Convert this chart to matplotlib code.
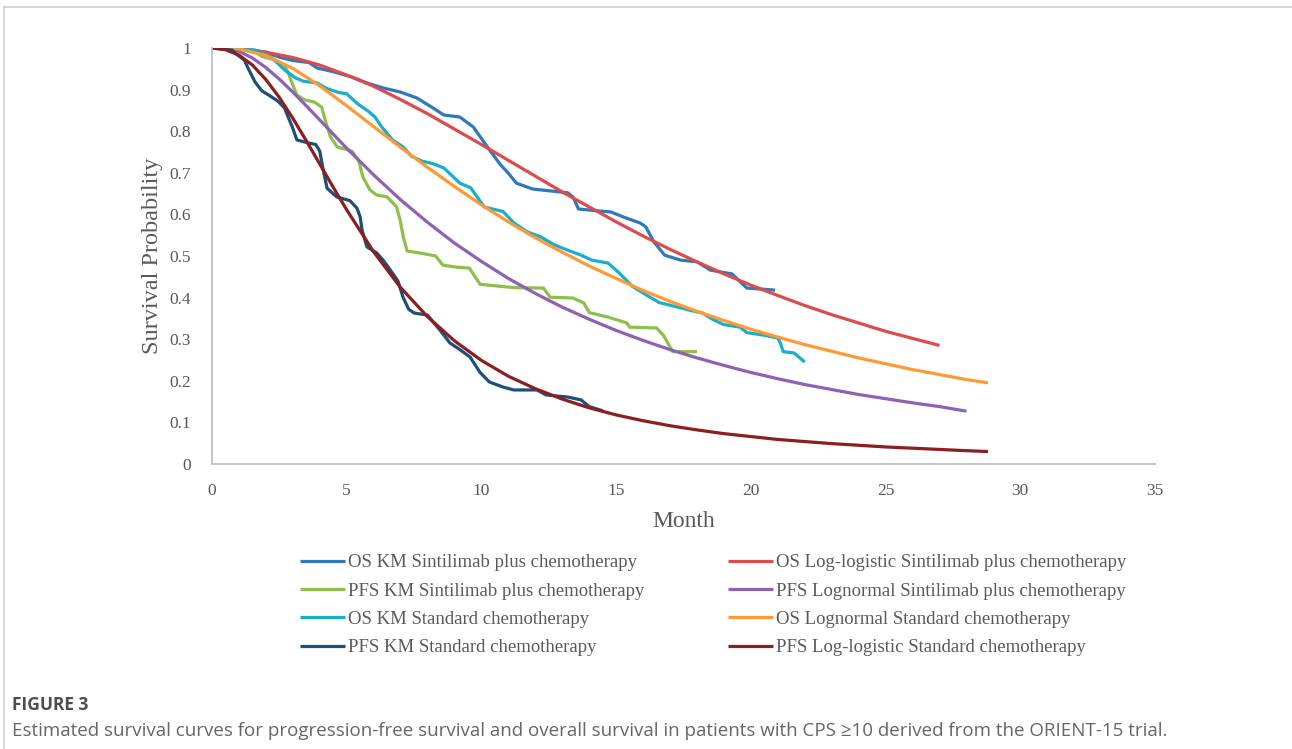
import matplotlib
matplotlib.use("Agg")
import matplotlib.pyplot as plt
from matplotlib.lines import Line2D

# ---- data (months, survival probability) ----
os_km_sint_t = [0, 1.0, 1.5, 2.0, 2.5, 3.0, 3.6, 3.9, 4.5, 5.2, 5.75, 6.35, 7.0, 7.6, 8.2, 8.6,
                9.2, 9.7, 10.3, 10.7, 11.0, 11.3, 11.9, 13.2, 13.4, 13.6, 14.4, 14.8, 15.3, 15.9,
                16.1, 16.4, 16.8, 17.4, 18.0, 18.5, 19.3, 19.85, 20.9]
os_km_sint_s = [1.0, 1.0, 0.995, 0.99, 0.978, 0.97, 0.965, 0.952, 0.943, 0.93, 0.916, 0.904, 0.894,
                0.88, 0.856, 0.839, 0.834, 0.81, 0.755, 0.72, 0.699, 0.675, 0.661, 0.652, 0.642,
                0.613, 0.608, 0.606, 0.593, 0.579, 0.57, 0.534, 0.502, 0.49, 0.486, 0.466, 0.457,
                0.423, 0.418]

os_ll_sint_t = [0, 1, 2, 3, 4, 5, 6, 7, 8, 9, 10, 11, 12, 13, 14, 15, 16, 17, 18, 19, 20, 21, 22,
                23, 24, 25, 26, 27]
os_ll_sint_s = [1.0, 0.998, 0.990, 0.977, 0.959, 0.935, 0.908, 0.876, 0.842, 0.805, 0.768, 0.730,
                0.692, 0.654, 0.618, 0.582, 0.548, 0.516, 0.486, 0.457, 0.430, 0.405, 0.381, 0.359,
                0.339, 0.319, 0.302, 0.285]

pfs_km_sint_t = [0, 1.5, 1.85, 2.35, 2.7, 2.83, 2.95, 3.15, 3.45, 3.8, 4.07, 4.2, 4.4, 4.65, 5.2,
                 5.45, 5.6, 5.86, 6.1, 6.5, 6.85, 6.98, 7.1, 7.24, 7.83, 8.3, 8.57, 9.1, 9.55, 9.95,
                 11.2, 12.3, 12.55, 13.4, 13.8, 14.0, 14.7, 15.4, 15.5, 16.5, 16.75, 17.0, 17.1, 18.0]
pfs_km_sint_s = [1.0, 0.995, 0.98, 0.971, 0.959, 0.94, 0.919, 0.887, 0.875, 0.87, 0.858, 0.827,
                 0.786, 0.762, 0.752, 0.728, 0.69, 0.659, 0.647, 0.642, 0.618, 0.587, 0.546, 0.512,
                 0.506, 0.5, 0.478, 0.473, 0.471, 0.432, 0.424, 0.423, 0.401, 0.399, 0.387, 0.364,
                 0.353, 0.339, 0.329, 0.327, 0.31, 0.281, 0.27, 0.27]

pfs_ln_sint_t = [0, 0.5, 1, 1.5, 2, 2.5, 3, 3.5, 4, 5, 6, 7, 8, 9, 10, 11, 12, 13, 14, 15, 16, 17,
                 18, 19, 20, 21, 22, 23, 24, 25, 26, 27, 28]
pfs_ln_sint_s = [1.0, 0.999, 0.992, 0.976, 0.953, 0.925, 0.894, 0.861, 0.827, 0.759, 0.695, 0.635,
                 0.581, 0.531, 0.487, 0.446, 0.410, 0.377, 0.348, 0.321, 0.297, 0.275, 0.255, 0.237,
                 0.220, 0.205, 0.191, 0.179, 0.167, 0.157, 0.147, 0.138, 0.127]

os_km_std_t = [0, 1.6, 2.2, 2.7, 3.1, 3.4, 3.9, 4.25, 4.7, 5.0, 5.4, 5.8, 6.05, 6.3, 6.7, 7.1, 7.4,
               7.8, 8.2, 8.6, 9.2, 9.6, 9.95, 10.1, 10.8, 11.2, 11.7, 12.2, 12.7, 13.2, 13.7, 14.1,
               14.7, 15.1, 15.6, 16.1, 16.6, 17.3, 17.7, 18.2, 18.6, 19.0, 19.6, 19.85, 20.45, 21.0,
               21.1, 21.2, 21.6, 22.0]
os_km_std_s = [1.0, 0.995, 0.978, 0.947, 0.928, 0.92, 0.916, 0.903, 0.893, 0.89, 0.866, 0.848,
               0.834, 0.81, 0.779, 0.762, 0.74, 0.728, 0.722, 0.712, 0.675, 0.664, 0.632, 0.618,
               0.607, 0.58, 0.558, 0.546, 0.527, 0.514, 0.502, 0.49, 0.483, 0.46, 0.427, 0.407,
               0.388, 0.377, 0.37, 0.363, 0.347, 0.335, 0.329, 0.316, 0.31, 0.303, 0.29, 0.27,
               0.267, 0.245]

os_ln_std_t = [0, 0.5, 1, 2, 3, 4, 5, 6, 7, 8, 9, 10, 11, 12, 13, 14, 15, 16, 17, 18, 19, 20, 21,
               22, 23, 24, 25, 26, 27, 28, 28.8]
os_ln_std_s = [1.0, 1.0, 0.998, 0.982, 0.951, 0.909, 0.861, 0.811, 0.761, 0.713, 0.667, 0.623,
               0.582, 0.544, 0.509, 0.476, 0.446, 0.417, 0.391, 0.367, 0.345, 0.324, 0.305, 0.287,
               0.271, 0.255, 0.241, 0.227, 0.215, 0.203, 0.195]

pfs_km_std_t = [0, 0.75, 0.95, 1.2, 1.35, 1.6, 1.85, 2.15, 2.45, 2.7, 2.8, 2.97, 3.15, 3.5, 3.85,
                4.0, 4.12, 4.27, 4.63, 5.12, 5.38, 5.5, 5.57, 5.75, 6.12, 6.35, 6.6, 6.9, 7.09, 7.3,
                7.5, 8.0, 8.2, 8.46, 8.83, 9.2, 9.58, 9.95, 10.3, 10.8, 11.2, 12.06, 12.4, 13.2,
                13.7, 14.0, 14.5]
pfs_km_std_s = [1.0, 0.995, 0.983, 0.971, 0.95, 0.918, 0.897, 0.885, 0.872, 0.855, 0.838, 0.812,
                0.779, 0.773, 0.768, 0.752, 0.71, 0.663, 0.642, 0.633, 0.615, 0.594, 0.562, 0.522,
                0.507, 0.49, 0.468, 0.44, 0.401, 0.372, 0.363, 0.358, 0.342, 0.322, 0.291, 0.275,
                0.257, 0.22, 0.197, 0.185, 0.178, 0.178, 0.166, 0.161, 0.154, 0.138, 0.128]

pfs_ll_std_t = [0, 0.5, 1, 1.5, 2, 2.5, 3, 3.5, 4, 4.5, 5, 6, 7, 8, 9, 10, 11, 12, 13, 14, 15, 16,
                17, 18, 19, 20, 21, 22, 23, 24, 25, 26, 27, 28, 28.8]
pfs_ll_std_s = [1.0, 0.996, 0.983, 0.959, 0.924, 0.881, 0.831, 0.777, 0.721, 0.665, 0.611, 0.510,
                0.424, 0.354, 0.296, 0.249, 0.211, 0.181, 0.156, 0.135, 0.118, 0.104, 0.092, 0.082,
                0.073, 0.066, 0.059, 0.054, 0.049, 0.045, 0.041, 0.038, 0.035, 0.032, 0.030]

series = [
    ("OS KM Sintilimab plus chemotherapy", os_km_sint_t, os_km_sint_s, "#2E78C0"),
    ("OS Log-logistic Sintilimab plus chemotherapy", os_ll_sint_t, os_ll_sint_s, "#DD4B4B"),
    ("PFS KM Sintilimab plus chemotherapy", pfs_km_sint_t, pfs_km_sint_s, "#8CC04A"),
    ("PFS Lognormal Sintilimab plus chemotherapy", pfs_ln_sint_t, pfs_ln_sint_s, "#9060B5"),
    ("OS KM Standard chemotherapy", os_km_std_t, os_km_std_s, "#17AFCB"),
    ("OS Lognormal Standard chemotherapy", os_ln_std_t, os_ln_std_s, "#FF9933"),
    ("PFS KM Standard chemotherapy", pfs_km_std_t, pfs_km_std_s, "#1D4F7A"),
    ("PFS Log-logistic Standard chemotherapy", pfs_ll_std_t, pfs_ll_std_s, "#8B1E1E"),
]

serif = "Liberation Serif"
grey = "#595959"

W, H = 1292, 749
fig = plt.figure(figsize=(W / 100, H / 100), dpi=100)
ax = fig.add_axes([212 / W, 1 - 464 / H, 943 / W, 416 / H])

handles = []
for label, t, s, c in series:
    ln, = ax.plot(t, s, color=c, lw=2.3, label=label, solid_joinstyle="round",
                  solid_capstyle="butt")
    handles.append(ln)

ax.set_xlim(0, 35)
ax.set_ylim(0, 1)
ax.set_xticks([0, 5, 10, 15, 20, 25, 30, 35])
ax.set_yticks([0, 0.1, 0.2, 0.3, 0.4, 0.5, 0.6, 0.7, 0.8, 0.9, 1])
ax.set_yticklabels(["0", "0.1", "0.2", "0.3", "0.4", "0.5", "0.6", "0.7", "0.8", "0.9", "1"])
for sp in ["top", "right"]:
    ax.spines[sp].set_visible(False)
for sp in ["left", "bottom"]:
    ax.spines[sp].set_color("#BFBFBF")
    ax.spines[sp].set_linewidth(1.3)
ax.tick_params(length=0, labelsize=12.5, labelcolor=grey)
ax.tick_params(axis="y", pad=15)
ax.tick_params(axis="x", pad=14)
for lab in ax.get_xticklabels() + ax.get_yticklabels():
    lab.set_fontfamily(serif)

ax.set_xlabel("Month", fontsize=17, color=grey, fontfamily=serif)
ax.set_ylabel("Survival Probability", fontsize=17.5, color=grey, fontfamily=serif)
ax.xaxis.set_label_coords(0.5, -0.112)
ax.yaxis.set_label_coords(-0.052, 0.5)

# legend: two columns, laid out row by row like the original
leg_kw = dict(loc="upper left", frameon=False, borderpad=0, borderaxespad=0,
              handlelength=2.4, handletextpad=0.15, labelspacing=0.6,
              prop={"family": serif, "size": 13.5}, labelcolor=grey)
fig.legend(handles[0::2], [h.get_label() for h in handles[0::2]],
           bbox_to_anchor=(300 / W, 1 - 554 / H), **leg_kw)
fig.legend(handles[1::2], [h.get_label() for h in handles[1::2]],
           bbox_to_anchor=(728 / W, 1 - 554 / H), **leg_kw)

# caption
fig.text(12 / W, 1 - 705 / H, "FIGURE 3", fontsize=12.5, fontweight="bold", color="#4D4D4D",
         family=["Open Sans", "DejaVu Sans"], va="center")
fig.text(12 / W, 1 - 731 / H,
         "Estimated survival curves for progression-free survival and overall survival in "
         "patients with CPS \u226510 derived from the ORIENT-15 trial.",
         fontsize=13.5, color="#666666", family=["Open Sans", "DejaVu Sans"], va="center")

# thin panel border at the top and left of the figure
fig.add_artist(Line2D([4 / W, 1], [1 - 7 / H, 1 - 7 / H], color="#D0D0D0", lw=1.2))
fig.add_artist(Line2D([4 / W, 4 / W], [0, 1 - 7 / H], color="#D0D0D0", lw=1.2))

fig.savefig("out.png", dpi=100)
